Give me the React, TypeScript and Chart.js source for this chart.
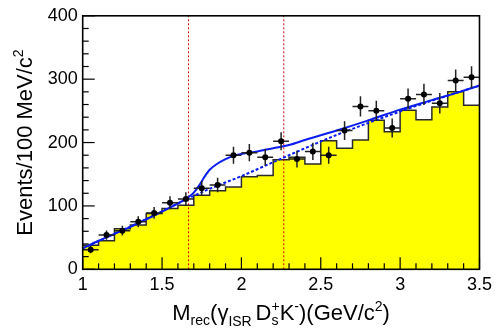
import React, { useEffect, useRef } from "react";
import { Chart, registerables } from "chart.js";

Chart.register(...registerables);

// ---------- data ----------
const binLowEdges = [1.0, 1.1, 1.2, 1.3, 1.4, 1.5, 1.6, 1.7, 1.8, 1.9, 2.0, 2.1, 2.2, 2.3, 2.4, 2.5, 2.6, 2.7, 2.8, 2.9, 3.0, 3.1, 3.2, 3.3, 3.4];
const histUpperEdge = 3.5;
const histCounts = [38, 45, 64, 70, 88, 96, 101, 117, 124, 130, 146, 148, 173, 177, 166, 203, 191, 204, 235, 217, 251, 236, 256, 280, 259];

const binCenters = [1.05, 1.15, 1.25, 1.35, 1.45, 1.55, 1.65, 1.75, 1.85, 1.95, 2.05, 2.15, 2.25, 2.35, 2.45, 2.55, 2.65, 2.75, 2.85, 2.95, 3.05, 3.15, 3.25, 3.35, 3.45];
const dataCounts = [31, 54, 61, 75, 89, 105, 111, 128, 133, 180, 184, 177, 202, 174, 186, 180, 219, 257, 250, 223, 269, 276, 262, 298, 303];
const dataErrY = [5.6, 7.3, 7.8, 8.7, 9.4, 10.2, 10.5, 11.3, 11.5, 13.4, 13.6, 13.3, 14.2, 13.2, 13.6, 13.4, 14.8, 16.0, 15.8, 14.9, 16.4, 16.6, 16.2, 17.3, 17.4];
const dataErrX = [0.05, 0.05, 0.05, 0.05, 0.05, 0.05, 0.05, 0.05, 0.05, 0.05, 0.05, 0.05, 0.05, 0.05, 0.05, 0.05, 0.05, 0.05, 0.05, 0.05, 0.05, 0.05, 0.05, 0.05, 0.05];

const fitX = [1.0, 1.1, 1.2, 1.3, 1.4, 1.5, 1.6, 1.667, 1.7, 1.733, 1.765, 1.8, 1.85, 1.9, 1.95, 2.0, 2.1, 2.2, 2.3, 2.4, 2.6, 2.8, 3.0, 3.2, 3.4, 3.5];
const fitY = [33, 45, 56, 67, 79, 91, 104, 114, 121, 132, 145, 157, 167, 174, 179, 182, 186, 191, 196, 204, 219, 235, 252, 267, 282, 290];

const bkgX = [1.0, 1.2, 1.4, 1.6, 1.8, 2.0, 2.2, 2.4, 2.6, 2.8, 3.0, 3.2, 3.4, 3.5];
const bkgY = [33, 56, 79, 104, 127, 147, 169, 191, 212, 231, 249, 266, 282, 290];

const markerLines = [1.667, 2.267];

const xMajorTicks = [1, 1.5, 2, 2.5, 3, 3.5];
const xTickLabels = ["1", "1.5", "2", "2.5", "3", "3.5"];
const yMajorTicks = [0, 100, 200, 300, 400];
const yTickLabels = ["0", "100", "200", "300", "400"];

const FONT = "'Liberation Sans', Arial, Helvetica, sans-serif";

function matchIndex(list: number[], v: number) {
  for (let i = 0; i < list.length; i++) if (Math.abs(list[i] - v) < 1e-6) return i;
  return -1;
}

const DATA_INDEX = 0;

const errorBarPlugin = {
  id: "errorBars",
  beforeDatasetDraw(chart: any, args: any) {
    if (args.index !== DATA_INDEX) return;
    const { ctx, scales } = chart;
    const xs = scales.x, ys = scales.y;
    ctx.save();
    ctx.strokeStyle = "#222";
    ctx.lineWidth = 1.5;
    for (let i = 0; i < binCenters.length; i++) {
      const cx = xs.getPixelForValue(binCenters[i]);
      const cy = ys.getPixelForValue(dataCounts[i]);
      const x0 = xs.getPixelForValue(binCenters[i] - dataErrX[i]);
      const x1 = xs.getPixelForValue(binCenters[i] + dataErrX[i]);
      const y0 = ys.getPixelForValue(dataCounts[i] - dataErrY[i]);
      const y1 = ys.getPixelForValue(dataCounts[i] + dataErrY[i]);
      ctx.beginPath();
      ctx.moveTo(x0, cy);
      ctx.lineTo(x1, cy);
      ctx.moveTo(cx, y0);
      ctx.lineTo(cx, y1);
      ctx.stroke();
    }
    ctx.restore();
  },
};

const framePlugin = {
  id: "frame",
  afterDatasetsDraw(chart: any) {
    const { ctx, chartArea: a, scales } = chart;
    ctx.save();
    ctx.strokeStyle = "#000";
    ctx.lineWidth = 1.2;
    scales.x.ticks.forEach((t: any) => {
      const px = scales.x.getPixelForValue(t.value);
      const len = matchIndex(xMajorTicks, t.value) >= 0 ? 12 : 6;
      ctx.beginPath();
      ctx.moveTo(px, a.bottom);
      ctx.lineTo(px, a.bottom - len);
      ctx.stroke();
    });
    scales.y.ticks.forEach((t: any) => {
      const py = scales.y.getPixelForValue(t.value);
      const len = matchIndex(yMajorTicks, t.value) >= 0 ? 12 : 6;
      ctx.beginPath();
      ctx.moveTo(a.left, py);
      ctx.lineTo(a.left + len, py);
      ctx.stroke();
    });
    ctx.lineWidth = 1.6;
    ctx.strokeRect(a.left, a.top, a.right - a.left, a.bottom - a.top);
    ctx.restore();
  },
};

type Piece = { t: string; size: number; dy: number; stackWith?: Piece };

function drawPieces(ctx: CanvasRenderingContext2D, pieces: Piece[], startX: number, baseY: number) {
  let x = startX;
  for (const p of pieces) {
    ctx.font = `${p.size}px ${FONT}`;
    let w = ctx.measureText(p.t).width;
    ctx.fillText(p.t, x, baseY + p.dy);
    if (p.stackWith) {
      ctx.font = `${p.stackWith.size}px ${FONT}`;
      const w2 = ctx.measureText(p.stackWith.t).width;
      ctx.fillText(p.stackWith.t, x, baseY + p.stackWith.dy);
      w = Math.max(w, w2);
    }
    x += w;
  }
}

function piecesWidth(ctx: CanvasRenderingContext2D, pieces: Piece[]) {
  let total = 0;
  for (const p of pieces) {
    ctx.font = `${p.size}px ${FONT}`;
    let w = ctx.measureText(p.t).width;
    if (p.stackWith) {
      ctx.font = `${p.stackWith.size}px ${FONT}`;
      w = Math.max(w, ctx.measureText(p.stackWith.t).width);
    }
    total += w;
  }
  return total;
}

const titlesPlugin = {
  id: "titles",
  afterDraw(chart: any) {
    const { ctx, chartArea: a } = chart;
    ctx.save();
    ctx.fillStyle = "#000";
    ctx.textAlign = "left";
    ctx.textBaseline = "alphabetic";
    const big = 22;
    const small = 14;
    const xPieces: Piece[] = [
      { t: "M", size: big, dy: 0 },
      { t: "rec", size: small, dy: 5 },
      { t: "(γ", size: big, dy: 0 },
      { t: "ISR ", size: small, dy: 6 },
      { t: "D", size: big, dy: 0 },
      { t: "s", size: small, dy: 5, stackWith: { t: "+", size: small, dy: -9 } },
      { t: "K", size: big, dy: 0 },
      { t: "-", size: small, dy: -9 },
      { t: ")(GeV/c", size: big, dy: 0 },
      { t: "2", size: small, dy: -9 },
      { t: ")", size: big, dy: 0 },
    ];
    const cx = (a.left + a.right) / 2;
    const wx = piecesWidth(ctx, xPieces);
    drawPieces(ctx, xPieces, cx - wx / 2, 320);

    const yPieces: Piece[] = [
      { t: "Events/100 MeV/c", size: big, dy: 0 },
      { t: "2", size: small, dy: -9 },
    ];
    const cy = (a.top + a.bottom) / 2;
    const wy = piecesWidth(ctx, yPieces);
    ctx.translate(32, cy);
    ctx.rotate(-Math.PI / 2);
    drawPieces(ctx, yPieces, -wy / 2, 0);
    ctx.restore();
  },
};

export default function App() {
  const canvasRef = useRef<HTMLCanvasElement | null>(null);

  useEffect(() => {
    document.body.style.margin = "0";
    document.body.style.overflow = "hidden";
    const canvas = canvasRef.current;
    if (!canvas) return;

    const histPoints = binLowEdges.map((x, i) => ({ x, y: histCounts[i] }));
    histPoints.push({ x: histUpperEdge, y: histCounts[histCounts.length - 1] });

    const markerDatasets = markerLines.map((m) => ({
      type: "line" as const,
      data: [
        { x: m, y: 0 },
        { x: m, y: 400 },
      ],
      borderColor: "#d00000",
      borderWidth: 1,
      borderDash: [2, 2],
      pointRadius: 0,
      fill: false,
      order: 4,
    }));

    const chart = new Chart(canvas, {
      type: "scatter",
      data: {
        datasets: [
          {
            type: "scatter",
            data: binCenters.map((x, i) => ({ x, y: dataCounts[i] })),
            pointRadius: 3,
            pointBackgroundColor: "#000",
            pointBorderColor: "#000",
            pointBorderWidth: 0,
            order: 1,
          },
          {
            type: "line",
            data: fitX.map((x, i) => ({ x, y: fitY[i] })),
            borderColor: "#0a1cf0",
            borderWidth: 2,
            pointRadius: 0,
            cubicInterpolationMode: "monotone",
            fill: false,
            order: 2,
          },
          {
            type: "line",
            data: bkgX.map((x, i) => ({ x, y: bkgY[i] })),
            borderColor: "#0a1cf0",
            borderWidth: 2,
            borderDash: [3, 2],
            pointRadius: 0,
            cubicInterpolationMode: "monotone",
            fill: false,
            order: 3,
          },
          ...markerDatasets,
          {
            type: "line",
            data: histPoints,
            stepped: "before",
            borderColor: "#2a2a2a",
            borderWidth: 1.5,
            backgroundColor: "#ffff00",
            fill: "origin",
            pointRadius: 0,
            order: 5,
          },
        ] as any,
      },
      options: {
        animation: false,
        responsive: false,
        devicePixelRatio: 1,
        layout: { padding: { left: 0, right: 14.3, top: 15, bottom: 0 } },
        plugins: {
          legend: { display: false },
          tooltip: { enabled: false },
        },
        scales: {
          x: {
            type: "linear",
            min: 1,
            max: 3.5,
            afterFit: (s: any) => {
              s.height = 60.7;
            },
            grid: { display: false, drawTicks: false },
            border: { display: false },
            ticks: {
              stepSize: 0.1,
              autoSkip: false,
              maxRotation: 0,
              minRotation: 0,
              padding: 5,
              color: "#000",
              font: { family: FONT, size: 18 },
              callback: (v: any) => {
                const idx = matchIndex(xMajorTicks, Number(v));
                return idx >= 0 ? xTickLabels[idx] : "";
              },
            },
          },
          y: {
            type: "linear",
            min: 0,
            max: 400,
            afterFit: (s: any) => {
              s.width = 82.7;
            },
            grid: { display: false, drawTicks: false },
            border: { display: false },
            ticks: {
              stepSize: 20,
              autoSkip: false,
              padding: 5,
              color: "#000",
              font: { family: FONT, size: 18 },
              callback: (v: any) => {
                const idx = matchIndex(yMajorTicks, Number(v));
                return idx >= 0 ? yTickLabels[idx] : "";
              },
            },
          },
        },
      } as any,
      plugins: [errorBarPlugin, framePlugin, titlesPlugin],
    });

    return () => chart.destroy();
  }, []);

  return (
    <div style={{ width: 497, height: 330, position: "relative", background: "#fff" }}>
      <canvas ref={canvasRef} width={497} height={330} style={{ display: "block" }} />
    </div>
  );
}
